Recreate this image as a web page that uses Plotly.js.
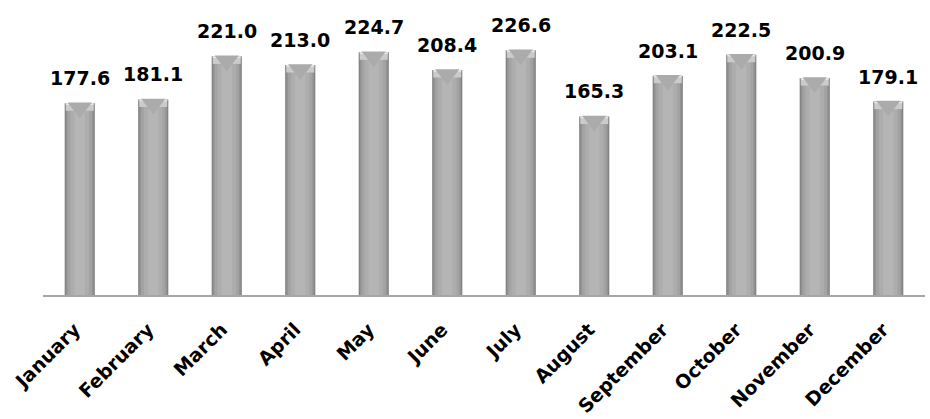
<!DOCTYPE html>
<html><head><meta charset="utf-8">
<script src="https://cdn.plot.ly/plotly-3.0.1.min.js"></script>
<style>html,body{margin:0;padding:0;background:#fff;}#chart{width:930px;height:419px;}</style>
</head><body><div id="chart"></div>
<script>
const months = ["January","February","March","April","May","June","July","August","September","October","November","December"];
const values = [177.6,181.1,221.0,213.0,224.7,208.4,226.6,165.3,203.1,222.5,200.9,179.1];
const valueLabels = values.map(v => v.toFixed(1));

const layers = [
  {w:0.41, c:'#7f7f7f'},
  {w:0.38, c:'#939393'},
  {w:0.33, c:'#a3a3a3'},
  {w:0.25, c:'#adadad'},
  {w:0.14, c:'#b5b5b5'}
];
const traces = layers.map(L => ({
  type:'bar', x:months, y:values, width:months.map(()=>L.w),
  marker:{color:L.c, line:{width:0}}, hoverinfo:'skip'
}));
// bevel at top of each bar
traces.push({type:'bar', x:months, y:months.map(()=>7), base:values.map(v=>v-7),
  width:months.map(()=>0.38), marker:{color:'#cbcbcb', line:{width:0}}, hoverinfo:'skip'});
traces.push({type:'scatter', mode:'markers', x:months, y:values.map(v=>v-4.2),
  marker:{symbol:'triangle-down', size:21, color:'#ababab', line:{width:0}}, hoverinfo:'skip', cliponaxis:false});
traces.push({type:'bar', x:months, y:months.map(()=>1.6), base:values.map(v=>v-1.6),
  width:months.map(()=>0.38), marker:{color:'#e6e6e6', line:{width:0}}, hoverinfo:'skip'});

const annotations = months.map((m,i)=>({
  x:m, y:values[i], text:valueLabels[i], showarrow:false, yanchor:'bottom', yshift:12,
  font:{family:'DejaVu Sans, sans-serif', size:19, color:'#000', weight:'bold'}
}));

Plotly.newPlot('chart', traces, {
  width:930, height:419,
  margin:{l:43, r:5, t:25, b:124},
  barmode:'overlay', showlegend:false,
  paper_bgcolor:'#fff', plot_bgcolor:'#fff',
  xaxis:{range:[-0.5, 11.5], showline:true, linecolor:'#a6a6a6', linewidth:2, ticks:'', tickangle:-45, automargin:false,
    ticklabelstandoff:14, ticklabelshift:-5,
    tickfont:{family:'DejaVu Sans, sans-serif', size:19, color:'#000', weight:'bold'}, showgrid:false},
  yaxis:{range:[0,250], visible:false, showgrid:false, zeroline:false, automargin:false},
  annotations:annotations
}, {staticPlot:true});
</script></body></html>
